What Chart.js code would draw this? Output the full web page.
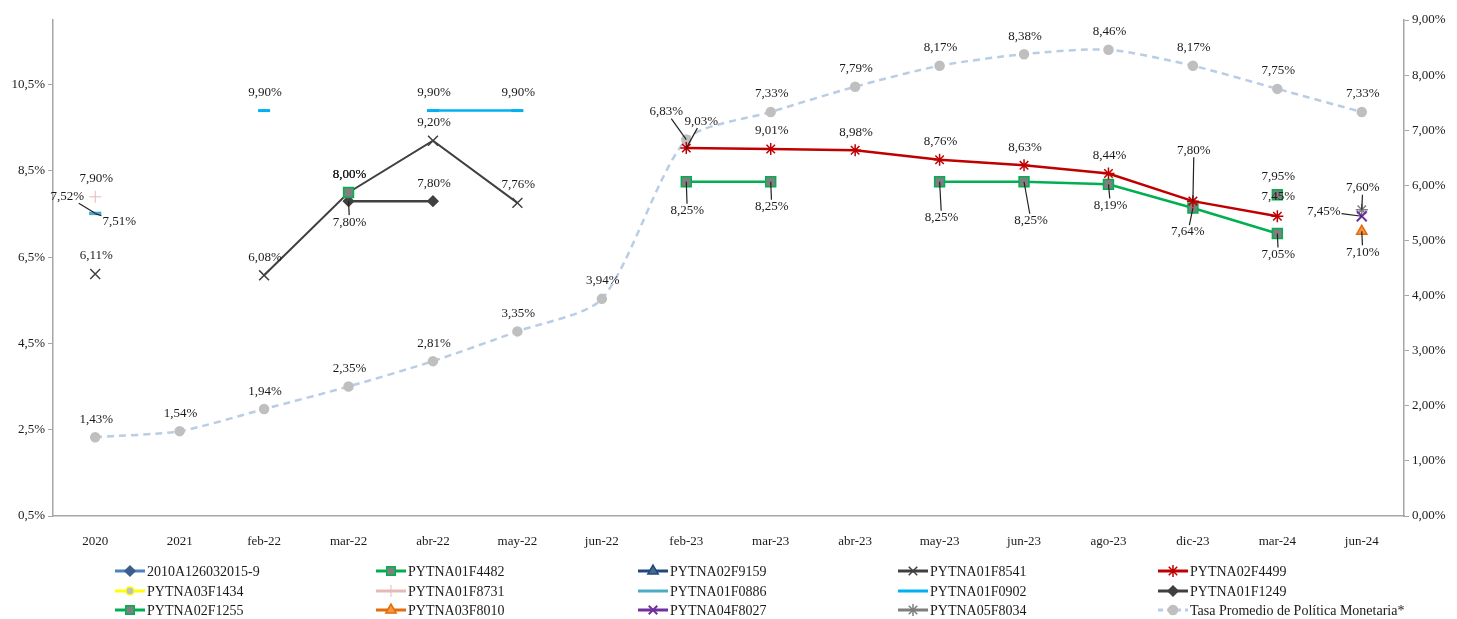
<!DOCTYPE html>
<html lang="es">
<head>
<meta charset="UTF-8">
<title>Tasas de emisión vs Tasa Promedio de Política Monetaria</title>
<script src="https://cdn.jsdelivr.net/npm/chart.js"></script>
<style>
  html, body { margin: 0; padding: 0; background: #fff; }
  #wrap { width: 1457px; height: 619px; }
</style>
</head>
<body>
<div id="wrap"><canvas id="chart" width="1457" height="619"></canvas></div>
<script>
// categories on the x axis
const categories = ['2020', '2021', 'feb-22', 'mar-22', 'abr-22', 'may-22', 'jun-22', 'feb-23',
  'mar-23', 'abr-23', 'may-23', 'jun-23', 'ago-23', 'dic-23', 'mar-24', 'jun-24'];

// series values (%), null = no issue that period
const s2010A = [null, null, null, null, null, null, null, null, null, null, null, null, null, null, null, null];
const f4482 = [null, null, null, 8.00, null, null, null, null, null, null, null, null, null, null, 7.95, null];
const f9159 = [null, null, null, null, null, null, null, null, null, null, null, null, null, null, null, null];
const f8541 = [6.11, null, 6.08, 8.00, 9.20, 7.76, null, null, null, null, null, null, null, null, null, null];
const f4499 = [null, null, null, null, null, null, null, 9.03, 9.01, 8.98, 8.76, 8.63, 8.44, 7.80, 7.45, null];
const f1434 = [null, null, null, null, null, null, null, null, null, null, null, null, null, null, null, null];
const f8731 = [7.90, null, null, null, null, null, null, null, null, null, null, null, null, null, null, null];
const f0886 = [7.51, null, null, null, null, null, null, null, null, null, null, null, null, null, null, null];
const f0902 = [7.52, null, 9.90, null, 9.90, 9.90, null, null, null, null, null, null, null, null, null, null];
const f1249 = [null, null, null, 7.80, 7.80, null, null, null, null, null, null, null, null, null, null, null];
const f1255 = [null, null, null, null, null, null, null, 8.25, 8.25, null, 8.25, 8.25, 8.19, 7.64, 7.05, null];
const f8010 = [null, null, null, null, null, null, null, null, null, null, null, null, null, null, null, 7.10];
const f8027 = [null, null, null, null, null, null, null, null, null, null, null, null, null, null, null, 7.45];
const f8034 = [null, null, null, null, null, null, null, null, null, null, null, null, null, null, null, 7.60];
const tasaTPM = [1.43, 1.54, 1.94, 2.35, 2.81, 3.35, 3.94, 6.83, 7.33, 7.79, 8.17, 8.38, 8.46, 8.17, 7.75, 7.33];

// axis ticks
const leftTicks = [0.5, 2.5, 4.5, 6.5, 8.5, 10.5];
const rightTicks = [0, 1, 2, 3, 4, 5, 6, 7, 8, 9];

const FONT = '"Liberation Serif", "Times New Roman", serif';

function ds(label, data, color, style, extra) {
  return Object.assign({
    label: label,
    data: data,
    yAxisID: 'y',
    borderColor: color,
    backgroundColor: color,
    borderWidth: 2.5,
    pointStyle: style,
    pointRadius: 6,
    pointHoverRadius: 6,
    pointBorderColor: color,
    pointBackgroundColor: color,
    pointBorderWidth: 1.5,
    tension: 0
  }, extra || {});
}

const datasets = [
  ds('2010A126032015-9', s2010A, '#4F81BD', 'rectRot', { pointBackgroundColor: '#3B5E8C', pointBorderColor: '#3B5E8C', pointRadius: 5 }),
  ds('PYTNA01F4482', f4482, '#00B050', 'rect', { pointBackgroundColor: '#7F7F7F', pointBorderColor: '#00B050', pointRadius: 7 }),
  ds('PYTNA02F9159', f9159, '#1F497D', 'triangle', { pointBackgroundColor: '#4A6A8A' }),
  ds('PYTNA01F8541', f8541, '#404040', 'crossRot', { borderWidth: 2, pointRadius: 7 }),
  ds('PYTNA02F4499', f4499, '#C00000', 'star', { borderWidth: 2.5, pointRadius: 6 }),
  ds('PYTNA03F1434', f1434, '#FFFF00', 'circle', { pointBackgroundColor: '#BFBFBF', pointBorderColor: '#FFFF00', pointRadius: 4 }),
  ds('PYTNA01F8731', f8731, '#E6B9B8', 'cross', { pointBorderWidth: 1 }),
  ds('PYTNA01F0886', f0886, '#4BACC6', 'line', { pointRadius: 6, pointBorderWidth: 3 }),
  ds('PYTNA01F0902', f0902, '#00B0F0', 'line', { pointRadius: 6, pointBorderWidth: 3 }),
  ds('PYTNA01F1249', f1249, '#404040', 'rectRot', { pointRadius: 5 }),
  ds('PYTNA02F1255', f1255, '#00B050', 'rect', { pointBackgroundColor: '#7F7F7F', pointBorderColor: '#00B050', pointRadius: 7 }),
  ds('PYTNA03F8010', f8010, '#E46C0A', 'triangle', { pointBackgroundColor: '#F79646', pointBorderColor: '#E46C0A' }),
  ds('PYTNA04F8027', f8027, '#7030A0', 'crossRot', { pointRadius: 7, pointBorderWidth: 2 }),
  ds('PYTNA05F8034', f8034, '#7F7F7F', 'star', { pointRadius: 6 }),
  ds('Tasa Promedio de Política Monetaria*', tasaTPM, '#B9CDE5', 'circle', {
    yAxisID: 'y1', borderDash: [7, 5], borderWidth: 2.5, tension: 0.25,
    pointBackgroundColor: '#BFBFBF', pointBorderColor: '#BFBFBF', pointRadius: 4.5
  })
];

// where the value labels sit, relative to their point: [dx, dy, leader line]
const labelShift = {
  'Tasa Promedio de Política Monetaria*|feb-23': [-20, -28, true],
  'PYTNA01F1249|mar-22': [1, 21, true],
  'PYTNA01F0902|2020': [-28, -17, true],
  'PYTNA01F0886|2020': [24, 8, true],
  'PYTNA02F1255|feb-23': [1, 29, true],
  'PYTNA02F1255|mar-23': [1, 25, true],
  'PYTNA02F1255|may-23': [2, 36, true],
  'PYTNA02F1255|jun-23': [7, 39, true],
  'PYTNA02F1255|ago-23': [2, 21, true],
  'PYTNA02F1255|dic-23': [-5, 24, true],
  'PYTNA02F1255|mar-24': [1, 21, true],
  'PYTNA02F4499|feb-23': [15, -27, true],
  'PYTNA02F4499|dic-23': [1, -51, true],
  'PYTNA02F4499|mar-24': [1, -20, false],
  'PYTNA05F8034|jun-24': [1, -22, true],
  'PYTNA04F8027|jun-24': [-38, -5, true],
  'PYTNA03F8010|jun-24': [1, 21, true]
};

const valueLabels = {
  id: 'valueLabels',
  afterDatasetsDraw(chart) {
    const ctx = chart.ctx;
    ctx.save();
    ctx.font = '13px ' + FONT;
    ctx.textAlign = 'center';
    ctx.textBaseline = 'middle';
    chart.data.datasets.forEach((d, i) => {
      const meta = chart.getDatasetMeta(i);
      d.data.forEach((v, j) => {
        if (v === null) return;
        const p = meta.data[j];
        const sh = labelShift[d.label + '|' + categories[j]] || [1, -18, false];
        const tx = p.x + sh[0], ty = p.y + sh[1];
        const text = v.toFixed(2).replace('.', ',') + '%';
        if (sh[2]) {
          const w = ctx.measureText(text).width / 2 + 1, h = 7;
          const dx = p.x - tx, dy = p.y - ty;
          const k = Math.min(dx !== 0 ? w / Math.abs(dx) : 1e9, dy !== 0 ? h / Math.abs(dy) : 1e9);
          ctx.strokeStyle = '#222';
          ctx.lineWidth = 1.2;
          ctx.beginPath();
          ctx.moveTo(tx + dx * k, ty + dy * k);
          ctx.lineTo(p.x, p.y);
          ctx.stroke();
        }
        ctx.fillStyle = '#1a1a1a';
        ctx.fillText(text, tx, ty);
      });
    });
    ctx.restore();
  }
};

// legend in five fixed columns, three rows
const legendCols = [115, 376, 638, 898, 1158];
const legendRows = [571, 591, 610];
const gridLegend = {
  id: 'gridLegend',
  afterDraw(chart) {
    const ctx = chart.ctx;
    ctx.save();
    chart.data.datasets.forEach((d, i) => {
      const x = legendCols[i % 5], y = legendRows[Math.floor(i / 5)];
      ctx.strokeStyle = d.borderColor;
      ctx.lineWidth = 3;
      ctx.setLineDash(d.borderDash ? [5, 4] : []);
      ctx.beginPath();
      ctx.moveTo(x, y);
      ctx.lineTo(x + 30, y);
      ctx.stroke();
      ctx.setLineDash([]);
      if (d.pointStyle !== 'line') {
        ctx.fillStyle = d.pointBackgroundColor;
        ctx.strokeStyle = d.pointBorderColor;
        ctx.lineWidth = d.pointBorderWidth;
        Chart.helpers.drawPoint(ctx, {
          pointStyle: d.pointStyle, radius: Math.min(d.pointRadius, 6), rotation: 0,
          borderWidth: d.pointBorderWidth
        }, x + 15, y);
      }
      ctx.fillStyle = '#1a1a1a';
      ctx.font = '14px ' + FONT;
      ctx.textAlign = 'left';
      ctx.textBaseline = 'middle';
      ctx.fillText(d.label, x + 32, y + 1);
    });
    ctx.restore();
  }
};

new Chart(document.getElementById('chart'), {
  type: 'line',
  data: { labels: categories, datasets: datasets },
  plugins: [valueLabels, gridLegend],
  options: {
    responsive: false,
    animation: false,
    layout: { padding: { top: 20, left: 0, right: 0, bottom: 0 } },
    plugins: {
      legend: { display: false },
      tooltip: { enabled: false }
    },
    scales: {
      x: {
        offset: true,
        grid: { display: false },
        border: { display: true, color: '#A6A6A6', width: 1.5 },
        ticks: { color: '#1a1a1a', font: { family: FONT, size: 13 }, padding: 10, maxRotation: 0, autoSkip: false },
        afterFit(scale) { scale.height = 103; }
      },
      y: {
        position: 'left',
        min: 0.5,
        max: 12.0,
        afterBuildTicks(scale) { scale.ticks = leftTicks.map(v => ({ value: v })); },
        grid: { drawOnChartArea: false, drawTicks: true, tickLength: 5, color: '#A6A6A6' },
        border: { display: true, color: '#A6A6A6', width: 1.5 },
        ticks: {
          color: '#1a1a1a', font: { family: FONT, size: 13 }, padding: 3,
          callback: v => v.toFixed(1).replace('.', ',') + '%'
        },
        afterFit(scale) { scale.width = 53; }
      },
      y1: {
        position: 'right',
        min: 0,
        max: 9,
        afterBuildTicks(scale) { scale.ticks = rightTicks.map(v => ({ value: v })); },
        grid: { drawOnChartArea: false, drawTicks: true, tickLength: 5, color: '#A6A6A6' },
        border: { display: true, color: '#A6A6A6', width: 1.5 },
        ticks: {
          color: '#1a1a1a', font: { family: FONT, size: 13 }, padding: 3,
          callback: v => v.toFixed(2).replace('.', ',') + '%'
        },
        afterFit(scale) { scale.width = 53; }
      }
    }
  }
});
</script>
</body>
</html>
